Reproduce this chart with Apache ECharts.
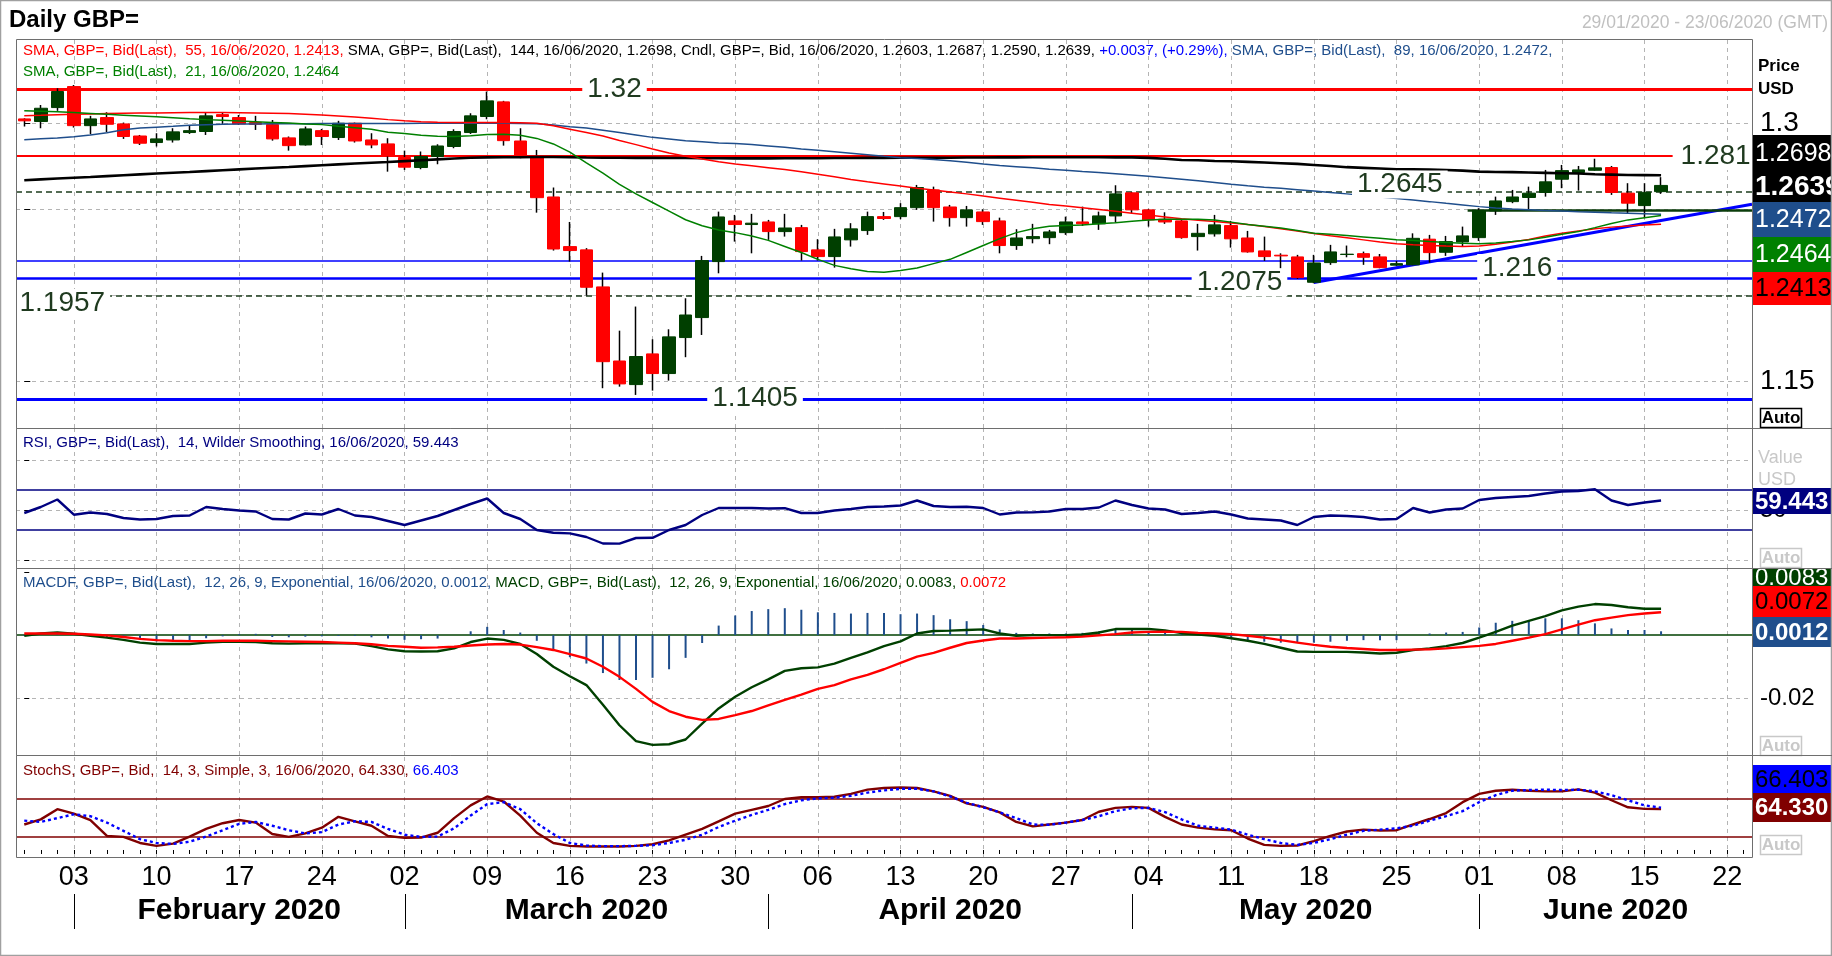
<!DOCTYPE html>
<html><head><meta charset="utf-8">
<script src="https://cdn.jsdelivr.net/npm/echarts/dist/echarts.min.js"></script>
<style>html,body{margin:0;padding:0;background:#fff}#c{width:1832px;height:956px}</style>
</head><body><div id="c"></div>
<script>
const categories = [
'2020-01-29','2020-01-30','2020-01-31',
'2020-02-03','2020-02-04','2020-02-05','2020-02-06','2020-02-07',
'2020-02-10','2020-02-11','2020-02-12','2020-02-13','2020-02-14',
'2020-02-17','2020-02-18','2020-02-19','2020-02-20','2020-02-21',
'2020-02-24','2020-02-25','2020-02-26','2020-02-27','2020-02-28',
'2020-03-02','2020-03-03','2020-03-04','2020-03-05','2020-03-06',
'2020-03-09','2020-03-10','2020-03-11','2020-03-12','2020-03-13',
'2020-03-16','2020-03-17','2020-03-18','2020-03-19','2020-03-20',
'2020-03-23','2020-03-24','2020-03-25','2020-03-26','2020-03-27',
'2020-03-30','2020-03-31','2020-04-01','2020-04-02','2020-04-03',
'2020-04-06','2020-04-07','2020-04-08','2020-04-09','2020-04-10',
'2020-04-13','2020-04-14','2020-04-15','2020-04-16','2020-04-17',
'2020-04-20','2020-04-21','2020-04-22','2020-04-23','2020-04-24',
'2020-04-27','2020-04-28','2020-04-29','2020-04-30','2020-05-01',
'2020-05-04','2020-05-05','2020-05-06','2020-05-07','2020-05-08',
'2020-05-11','2020-05-12','2020-05-13','2020-05-14','2020-05-15',
'2020-05-18','2020-05-19','2020-05-20','2020-05-21','2020-05-22',
'2020-05-25','2020-05-26','2020-05-27','2020-05-28','2020-05-29',
'2020-06-01','2020-06-02','2020-06-03','2020-06-04','2020-06-05',
'2020-06-08','2020-06-09','2020-06-10','2020-06-11','2020-06-12',
'2020-06-15','2020-06-16','2020-06-17','2020-06-18','2020-06-19',
'2020-06-22','2020-06-23'];

const weekTicks = ['2020-02-03','2020-02-10','2020-02-17','2020-02-24','2020-03-02','2020-03-09','2020-03-16','2020-03-23','2020-03-30','2020-04-06','2020-04-13','2020-04-20','2020-04-27','2020-05-04','2020-05-11','2020-05-18','2020-05-25','2020-06-01','2020-06-08','2020-06-15','2020-06-22'];
const monthStarts = ['2020-02-03','2020-03-02','2020-04-01','2020-05-01','2020-06-01'];
const monthNames = ['February 2020','March 2020','April 2020','May 2020','June 2020'];
const priceTicks = [1.15, 1.2, 1.25, 1.3];
const rsiTicks = [0, 50, 100];
const macdTicks = [-0.02];

const open = [1.3025,1.3010,1.3091,1.3213,1.2986,1.3033,1.2996,1.2926,1.2888,1.2903,
1.2946,1.2952,1.3050,1.3033,1.3004,1.2992,1.2915,1.2874,1.2957,1.2917,
1.3000,1.2903,1.2880,1.2801,1.2743,1.2807,1.2865,1.2946,1.3039,1.3124,
1.2897,1.2810,1.2572,1.2284,1.2265,1.2050,1.1620,1.1483,1.1661,1.1547,
1.1756,1.1872,1.2197,1.2433,1.2412,1.2427,1.2371,1.2394,1.2265,1.2226,
1.2323,1.2377,1.2458,1.2458,1.2510,1.2613,1.2514,1.2452,1.2485,1.2433,
1.2290,1.2330,1.2336,1.2365,1.2427,1.2416,1.2462,1.2596,1.2497,1.2443,
1.2433,1.2342,1.2358,1.2406,1.2334,1.2259,1.2234,1.2224,1.2077,1.2191,
1.2238,1.2243,1.2224,1.2176,1.2178,1.2327,1.2251,1.2311,1.2336,1.2491,
1.2545,1.2569,1.2598,1.2675,1.2714,1.2727,1.2743,1.2594,1.2522,1.2603];
const high = [1.3029,1.3106,1.3203,1.3222,1.3043,1.3064,1.3004,1.2932,1.2942,1.2971,
1.2985,1.3064,1.3064,1.3048,1.3043,1.3019,1.2923,1.2981,1.2967,1.3014,
1.3004,1.2942,1.2913,1.2841,1.2836,1.2878,1.2965,1.3058,1.3184,1.3130,
1.2971,1.2845,1.2627,1.2427,1.2275,1.2133,1.1796,1.1936,1.1746,1.1804,
1.1984,1.2230,1.2487,1.2468,1.2474,1.2439,1.2474,1.2410,1.2327,1.2387,
1.2420,1.2487,1.2485,1.2536,1.2642,1.2632,1.2526,1.2520,1.2501,1.2452,
1.2385,1.2416,1.2381,1.2458,1.2516,1.2487,1.2640,1.2601,1.2503,1.2483,
1.2443,1.2416,1.2468,1.2433,1.2375,1.2342,1.2245,1.2236,1.2236,1.2294,
1.2290,1.2255,1.2241,1.2201,1.2361,1.2352,1.2346,1.2400,1.2507,1.2574,
1.2613,1.2632,1.2729,1.2758,1.2752,1.2794,1.2752,1.2652,1.2652,1.2687];
const low = [1.2981,1.2971,1.3072,1.2975,1.2936,1.2948,1.2909,1.2874,1.2865,1.2888,
1.2938,1.2932,1.2996,1.2990,1.2961,1.2899,1.2841,1.2870,1.2874,1.2903,
1.2888,1.2855,1.2719,1.2729,1.2733,1.2762,1.2855,1.2938,1.3023,1.2870,
1.2797,1.2481,1.2261,1.2197,1.2000,1.1462,1.1471,1.1423,1.1448,1.1506,
1.1642,1.1771,1.2129,1.2313,1.2245,1.2323,1.2342,1.2203,1.2203,1.2162,
1.2284,1.2352,1.2439,1.2443,1.2497,1.2429,1.2400,1.2400,1.2410,1.2245,
1.2265,1.2303,1.2298,1.2352,1.2404,1.2381,1.2423,1.2478,1.2400,1.2416,
1.2330,1.2261,1.2342,1.2278,1.2249,1.2201,1.2158,1.2096,1.2071,1.2178,
1.2222,1.2178,1.2158,1.2172,1.2176,1.2191,1.2230,1.2284,1.2317,1.2468,
1.2536,1.2497,1.2574,1.2623,1.2609,1.2725,1.2584,1.2474,1.2449,1.2590];
const close = [1.3014,1.3087,1.3184,1.2986,1.3025,1.2994,1.2923,1.2884,1.2909,1.2950,
1.2957,1.3043,1.3039,1.2996,1.2994,1.2909,1.2870,1.2967,1.2923,1.3000,
1.2897,1.2874,1.2810,1.2745,1.2807,1.2868,1.2952,1.3043,1.3130,1.2899,
1.2810,1.2568,1.2270,1.2261,1.2048,1.1616,1.1487,1.1646,1.1547,1.1760,
1.1887,1.2203,1.2456,1.2412,1.2420,1.2371,1.2392,1.2255,1.2226,1.2340,
1.2387,1.2458,1.2447,1.2510,1.2627,1.2510,1.2452,1.2497,1.2429,1.2290,
1.2334,1.2342,1.2369,1.2427,1.2416,1.2462,1.2590,1.2497,1.2439,1.2427,
1.2336,1.2361,1.2410,1.2329,1.2253,1.2226,1.2230,1.2104,1.2189,1.2253,
1.2240,1.2222,1.2162,1.2185,1.2332,1.2249,1.2313,1.2346,1.2493,1.2549,
1.2572,1.2594,1.2660,1.2725,1.2729,1.2741,1.2598,1.2536,1.2599,1.2639];

const sma21 = [1.3073,1.3070,1.3066,1.3062,1.3057,1.3052,1.3047,1.3042,1.3037,1.3032,
1.3026,1.3021,1.3017,1.3013,1.3009,1.3005,1.3001,1.2996,1.2992,1.2982,
1.2974,1.2965,1.2948,1.2940,1.2930,1.2925,1.2923,1.2928,1.2934,1.2936,
1.2930,1.2912,1.2880,1.2832,1.2770,1.2710,1.2645,1.2590,1.2540,1.2490,
1.2440,1.2405,1.2380,1.2365,1.2345,1.2320,1.2285,1.2250,1.2210,1.2175,
1.2155,1.2140,1.2135,1.2145,1.2160,1.2185,1.2210,1.2250,1.2290,1.2330,
1.2365,1.2388,1.2402,1.2407,1.2410,1.2416,1.2423,1.2431,1.2438,1.2442,
1.2443,1.2442,1.2439,1.2426,1.2412,1.2402,1.2392,1.2377,1.2362,1.2355,
1.2348,1.2340,1.2332,1.2324,1.2320,1.2313,1.2308,1.2303,1.2300,1.2305,
1.2313,1.2323,1.2338,1.2355,1.2371,1.2394,1.2418,1.2439,1.2452,1.2464];
const sma55 = [1.3043,1.3046,1.3050,1.3052,1.3054,1.3056,1.3058,1.3059,1.3060,1.3061,
1.3062,1.3062,1.3062,1.3061,1.3060,1.3058,1.3056,1.3052,1.3048,1.3042,
1.3036,1.3029,1.3021,1.3014,1.3008,1.3006,1.3005,1.3004,1.3004,1.3004,
1.3003,1.3000,1.2985,1.2965,1.2946,1.2926,1.2900,1.2876,1.2851,1.2827,
1.2808,1.2792,1.2777,1.2764,1.2753,1.2742,1.2731,1.2719,1.2704,1.2689,
1.2674,1.2660,1.2648,1.2636,1.2622,1.2612,1.2601,1.2590,1.2577,1.2565,
1.2553,1.2541,1.2529,1.2519,1.2509,1.2499,1.2489,1.2478,1.2467,1.2456,
1.2445,1.2437,1.2429,1.2421,1.2412,1.2400,1.2387,1.2374,1.2360,1.2347,
1.2335,1.2323,1.2311,1.2300,1.2294,1.2290,1.2287,1.2285,1.2287,1.2297,
1.2310,1.2325,1.2345,1.2362,1.2375,1.2387,1.2397,1.2404,1.2409,1.2413];
const sma89 = [1.2904,1.2910,1.2915,1.2922,1.2932,1.2945,1.2962,1.2972,1.2977,1.2982,
1.2988,1.2991,1.2994,1.2996,1.2996,1.2997,1.2997,1.2997,1.2998,1.2998,
1.2998,1.2999,1.2999,1.2999,1.3000,1.3000,1.3000,1.3000,1.3000,1.3000,
1.2999,1.2997,1.2990,1.2980,1.2973,1.2960,1.2946,1.2932,1.2918,1.2908,
1.2898,1.2892,1.2886,1.2882,1.2876,1.2868,1.2860,1.2851,1.2843,1.2835,
1.2826,1.2817,1.2808,1.2800,1.2795,1.2789,1.2782,1.2774,1.2764,1.2755,
1.2748,1.2741,1.2733,1.2727,1.2720,1.2714,1.2707,1.2700,1.2692,1.2684,
1.2675,1.2666,1.2656,1.2646,1.2637,1.2629,1.2622,1.2614,1.2606,1.2598,
1.2590,1.2581,1.2572,1.2563,1.2554,1.2545,1.2535,1.2526,1.2516,1.2508,
1.2502,1.2498,1.2494,1.2490,1.2486,1.2483,1.2480,1.2478,1.2475,1.2472];
const sma144 = [1.2669,1.2674,1.2679,1.2684,1.2688,1.2693,1.2698,1.2703,1.2708,1.2713,
1.2717,1.2722,1.2727,1.2732,1.2737,1.2742,1.2746,1.2751,1.2756,1.2761,
1.2766,1.2771,1.2775,1.2780,1.2785,1.2790,1.2795,1.2800,1.2802,1.2803,
1.2803,1.2804,1.2804,1.2803,1.2801,1.2800,1.2800,1.2799,1.2799,1.2798,
1.2798,1.2797,1.2797,1.2796,1.2796,1.2796,1.2797,1.2797,1.2797,1.2798,
1.2798,1.2799,1.2799,1.2800,1.2800,1.2800,1.2800,1.2801,1.2801,1.2802,
1.2802,1.2803,1.2803,1.2803,1.2803,1.2803,1.2802,1.2802,1.2799,1.2794,
1.2787,1.2785,1.2781,1.2779,1.2776,1.2772,1.2768,1.2764,1.2758,1.2752,
1.2745,1.2741,1.2737,1.2733,1.2732,1.2731,1.2729,1.2725,1.2719,1.2717,
1.2716,1.2714,1.2712,1.2710,1.2708,1.2704,1.2702,1.2700,1.2699,1.2698];

const levels = [1.32, 1.281, 1.2645, 1.216, 1.2075, 1.1957, 1.1405];
const trendLine = [[78, 1.2075], [104.5, 1.2530]];
const supportLine = [[87.3, 1.2493], [104.5, 1.2493]];

const rsi = [47,53,60.5,45.3,47.5,46,42,40.5,41,44,
44.5,53,51,49.5,48.5,41,40.5,46.5,45.5,51,
44.5,43,39,35,39.5,44,50,56,61.5,47,
41,30,27.3,26.6,23,16.5,16.4,22,22.2,30,
35,45,52,52,52,51.5,51.8,47,47,49.5,
51,53,53.5,54.5,59.5,54,53,53.2,52,45.5,
47.5,47.6,48.5,51,51,52.5,59.5,55,51.5,50.5,
46,47,48.5,45.5,41.5,40.5,39.5,35,43,44.5,
44,43,40.5,41,52,47.5,50.5,51.5,60,62,
63,64,66.5,68.5,69,70.7,59.5,55,57.5,59.443];

const macd = [-0.0002,0.0005,0.0008,0.0004,-0.0002,-0.0008,-0.0015,-0.0024,-0.0028,-0.0028,
-0.0028,-0.0024,-0.0021,-0.0021,-0.0022,-0.0026,-0.0027,-0.0026,-0.0026,-0.0026,
-0.0027,-0.0035,-0.0045,-0.0051,-0.0052,-0.0051,-0.0042,-0.0022,-0.0011,-0.0015,
-0.0028,-0.0060,-0.0100,-0.0130,-0.0158,-0.0220,-0.0285,-0.0335,-0.0347,-0.0345,
-0.0330,-0.0280,-0.0232,-0.0195,-0.0165,-0.0140,-0.0113,-0.0105,-0.0102,-0.0090,
-0.0072,-0.0055,-0.0035,-0.0020,0.0005,0.0013,0.0014,0.0016,0.0018,0.0005,
-0.0002,0.0000,0.0000,0.0000,0.0002,0.0008,0.0019,0.0019,0.0019,0.0015,
0.0006,0.0002,-0.0002,-0.0010,-0.0018,-0.0028,-0.0040,-0.0052,-0.0053,-0.0053,
-0.0053,-0.0055,-0.0058,-0.0056,-0.0047,-0.0042,-0.0035,-0.0025,-0.0008,0.0010,
0.0030,0.0045,0.0060,0.0078,0.0090,0.0098,0.0095,0.0088,0.0083,0.0083];
const signal = [0.0005,0.0005,0.0005,0.0004,0.0002,-0.0001,-0.0006,-0.0012,-0.0016,-0.0018,
-0.0019,-0.0019,-0.0018,-0.0018,-0.0018,-0.0019,-0.0020,-0.0021,-0.0022,-0.0024,
-0.0026,-0.0029,-0.0034,-0.0037,-0.0040,-0.0039,-0.0037,-0.0033,-0.0030,-0.0028,
-0.0030,-0.0038,-0.0047,-0.0060,-0.0074,-0.0100,-0.0132,-0.0170,-0.0211,-0.0240,
-0.0258,-0.0268,-0.0265,-0.0253,-0.0240,-0.0222,-0.0205,-0.0188,-0.0170,-0.0158,
-0.0140,-0.0126,-0.0108,-0.0088,-0.0068,-0.0056,-0.0040,-0.0025,-0.0017,-0.0011,
-0.0011,-0.0009,-0.0008,-0.0007,-0.0005,-0.0001,0.0003,0.0008,0.0010,0.0011,
0.0010,0.0007,0.0005,0.0003,-0.0002,-0.0008,-0.0016,-0.0024,-0.0031,-0.0037,
-0.0041,-0.0044,-0.0047,-0.0047,-0.0046,-0.0045,-0.0042,-0.0038,-0.0034,-0.0028,
-0.0018,-0.0008,0.0003,0.0018,0.0033,0.0047,0.0055,0.0063,0.0068,0.0072];
const macdHist = [-0.0003,0.0000,0.0004,0.0001,-0.0003,-0.0006,-0.0009,-0.0014,-0.0020,-0.0019,
-0.0017,-0.0010,-0.0004,0.0003,0.0004,-0.0006,-0.0007,-0.0005,-0.0004,-0.0003,
-0.0003,-0.0007,-0.0011,-0.0015,-0.0013,-0.0011,0.0000,0.0012,0.0026,0.0016,
0.0008,-0.0018,-0.0045,-0.0070,-0.0090,-0.0120,-0.0142,-0.0142,-0.0135,-0.0108,
-0.0072,-0.0025,0.0030,0.0062,0.0076,0.0082,0.0085,0.0080,0.0072,0.0070,
0.0068,0.0070,0.0070,0.0066,0.0068,0.0063,0.0050,0.0044,0.0032,0.0018,
0.0007,0.0005,0.0005,0.0005,0.0007,0.0012,0.0018,0.0016,0.0013,0.0010,
0.0005,0.0000,-0.0005,-0.0010,-0.0016,-0.0021,-0.0024,-0.0024,-0.0024,-0.0021,
-0.0018,-0.0016,-0.0016,-0.0016,0.0000,0.0005,0.0008,0.0010,0.0024,0.0039,
0.0045,0.0047,0.0053,0.0053,0.0047,0.0037,0.0021,0.0016,0.0016,0.0012];

const stochK = [40,48,64,57,47,22,20.5,11,6.5,10,
21,33,42,47,43,25,20.5,26,35,52,
45,38,22,19,19.5,27,50,70,84,76,
54,27,11,6.5,5.4,5.4,5.5,6.5,9,15,
24,33,45,57,63,69,80,82.7,82.7,83.5,
88,94.6,97.3,98,97.3,92,85,73,67.6,59,
44,37,40,43,47,60,66,67.6,66,52,
40,35,32.4,31,18,8,6.5,7,14,22,
29,32,30.5,31,40,48.6,58,75,88,93,
94.6,93,92,92,95,90,78,67,64.5,64.33];
const stochD = [46,44,50,56,53,43,30,17,11,9.5,
13,21,31,41,44,38,31,26,28,40,
45,44,33,24,20.5,21,34,54,72,75,
64,42,25,11,7,6,6,6.5,7.5,11,
16,24,36,46,55,63,72,78,81,82,
85,90,93.5,96,96,92,84,74,67,59,
50,40,39.5,43,47,53,61,65.5,66,59.5,
48,38,35,32,24,17,11,8,11,17,
24,30,32,34,38,46,53,61,75,86,
93,94,94.6,94,94.6,92,86,78,70,66.403];

const FONT = 'Liberation Sans, Arial, sans-serif';
const chart = echarts.init(document.getElementById('c'), null, {renderer: 'canvas', width: 1832, height: 956});

const candleFull = open.map((o, i) => [o, close[i], low[i], high[i]]);
const candleBody = open.map((o, i) => [o, close[i], Math.min(o, close[i]), Math.max(o, close[i])]);
const weekIdx = weekTicks.map(d => categories.indexOf(d));

const GRID_LS = {color: '#b4b4b4', type: [4, 4], width: 1};
function vGrid() { return weekIdx.map(i => ({xAxis: i, lineStyle: GRID_LS})); }
function hGrid(ticks) { return ticks.map(v => ({yAxis: v, lineStyle: GRID_LS})); }
function mLine(extra) {
  return {silent: true, symbol: ['none', 'none'], label: {show: false}, animation: false, z: 0,
    emphasis: {disabled: true}, data: vGrid().concat(extra || [])};
}

const levelStyle = [
  {color: '#ff0000', width: 3, type: 'solid'},
  {color: '#ff0000', width: 2, type: 'solid', to: 99.7},
  {color: '#1d3d1d', width: 1.5, type: [6, 4]},
  {color: '#0000ff', width: 1.5, type: 'solid'},
  {color: '#0000ff', width: 2.5, type: 'solid'},
  {color: '#1d3d1d', width: 1.5, type: [6, 4]},
  {color: '#0000ff', width: 3, type: 'solid'}
];
const labelX = [35.7, 102.3, 83.2, 90.3, 73.5, 2.3, 44.2];
const levelLines = levels.map((v, k) => {
  const s = levelStyle[k];
  const ls = {color: s.color, width: s.width, type: s.type};
  if (s.to !== undefined) return [{coord: [-0.5, v], lineStyle: ls}, {coord: [s.to, v], lineStyle: ls}];
  return {yAxis: v, lineStyle: ls};
});
const levelLabels = levels.map((v, k) => ({coord: [labelX[k], v], label: {formatter: String(v)}}));

const grids = [
  {left: 16, right: 80, top: 39, height: 389},
  {left: 16, right: 80, top: 428, height: 140},
  {left: 16, right: 80, top: 568, height: 187},
  {left: 16, right: 80, top: 755, height: 102}
].map(g => Object.assign({show: false, containLabel: false, outerBoundsMode: 'none'}, g));

function catAxis(gi, showLabels) {
  const a = {type: 'category', gridIndex: gi, data: categories, boundaryGap: true,
    axisLine: {show: false}, splitLine: {show: false}, axisTick: {show: false}, axisLabel: {show: false}};
  if (showLabels) {
    a.axisTick = {show: true, interval: 0, alignWithLabel: true, length: 4, lineStyle: {color: '#000', width: 1}};
    a.axisLabel = {show: true, interval: (idx, val) => weekTicks.indexOf(val) >= 0,
      formatter: v => v.slice(8, 10), fontSize: 27, color: '#000', fontFamily: FONT, margin: 7};
  }
  return a;
}
function valAxis(gi) {
  return {type: 'value', gridIndex: gi, min: -0.5, max: 104.5, show: false, splitLine: {show: false}};
}

const yAxes = [
  {type: 'value', gridIndex: 0, position: 'right', min: 1.1231, max: 1.3489, minInterval: 0.05, maxInterval: 0.05,
    splitLine: {show: false}, axisLine: {show: false}, axisTick: {show: true, length: 6, lineStyle: {color: '#000'}},
    axisLabel: {fontSize: 28, color: '#000', fontFamily: FONT, margin: 8,
      formatter: v => (Math.abs(v * 20 - Math.round(v * 20)) < 1e-6 ? String(+v.toFixed(2)) : '')}},
  {type: 'value', gridIndex: 1, position: 'right', min: -8, max: 132, minInterval: 50, maxInterval: 50,
    splitLine: {show: false}, axisLine: {show: false}, axisTick: {show: true, length: 5, lineStyle: {color: '#000'}},
    axisLabel: {fontSize: 24, color: '#000', fontFamily: FONT, margin: 8, formatter: v => (v === 50 ? '50' : '')}},
  {type: 'value', gridIndex: 2, position: 'right', min: -0.0379, max: 0.0212, minInterval: 0.02, maxInterval: 0.02,
    splitLine: {show: false}, axisLine: {show: false}, axisTick: {show: true, length: 5, lineStyle: {color: '#000'}},
    axisLabel: {fontSize: 24, color: '#000', fontFamily: FONT, margin: 8,
      formatter: v => (Math.abs(v) < 1e-9 ? '0' : (Math.abs(v + 0.02) < 1e-9 ? '-0.02' : ''))}},
  {type: 'value', gridIndex: 3, position: 'right', min: -11, max: 149,
    splitLine: {show: false}, axisLine: {show: false}, axisTick: {show: false}, axisLabel: {show: false}}
];

function line(name, data, color, width, xi, yi, z, type) {
  return {type: 'line', name, data, xAxisIndex: xi, yAxisIndex: yi, symbol: 'none', z, silent: true,
    animation: false, lineStyle: {color, width, type: type || 'solid'}, itemStyle: {color}, emphasis: {disabled: true}};
}
function helper(xi, yi, extra) {
  return {type: 'line', name: 'grid' + xi, data: [[-0.5, null]], xAxisIndex: xi, yAxisIndex: yi, symbol: 'none',
    silent: true, animation: false, z: 0, lineStyle: {width: 0}, markLine: mLine(extra)};
}

const series = [
  helper(4, 0, hGrid(priceTicks)),
  helper(5, 1, hGrid(rsiTicks).concat([{yAxis: 70, lineStyle: {color: '#000080', width: 1.5, type: 'solid'}},
                {yAxis: 30, lineStyle: {color: '#000080', width: 1.5, type: 'solid'}}])),
  helper(6, 2, hGrid(macdTicks).concat([{yAxis: 0, lineStyle: {color: '#004000', width: 1.5, type: 'solid'}}])),
  helper(7, 3, [{yAxis: 80, lineStyle: {color: '#800000', width: 1.5, type: 'solid'}},
                {yAxis: 20, lineStyle: {color: '#800000', width: 1.5, type: 'solid'}}]),
  {type: 'candlestick', name: 'wick', xAxisIndex: 0, yAxisIndex: 0, data: candleFull, barWidth: 1, z: 2, silent: true,
    itemStyle: {color: '#000', color0: '#000', borderColor: '#000', borderColor0: '#000', borderColorDoji: '#000', borderWidth: 1.5}},
  {type: 'candlestick', name: 'body', xAxisIndex: 0, yAxisIndex: 0, data: candleBody, barWidth: 13, z: 3, silent: true,
    itemStyle: {color: '#003f00', color0: '#ff0000', borderColor: '#003f00', borderColor0: '#ff0000', borderColorDoji: '#000', borderWidth: 1}},
  line('SMA144', sma144, '#000000', 2.6, 0, 0, 4),
  line('SMA89', sma89, '#1f4e8c', 1.5, 0, 0, 4),
  line('SMA55', sma55, '#ff0000', 1.5, 0, 0, 4),
  line('SMA21', sma21, '#008000', 1.5, 0, 0, 4),
  Object.assign(line('trend', trendLine, '#0000ff', 3, 4, 0, 2), {
    markLine: {silent: true, symbol: ['none', 'none'], label: {show: false}, animation: false, z: 1, data: levelLines},
    markPoint: {silent: true, z: 10, animation: false, symbol: 'circle', symbolSize: 1, itemStyle: {color: 'rgba(0,0,0,0)'},
      label: {show: true, position: 'inside', fontSize: 28, fontFamily: FONT, color: '#1f3a1f', backgroundColor: '#ffffff', padding: [0, 5, 0, 5]},
      data: levelLabels}
  }),
  line('support', supportLine, '#0b3d0b', 2.5, 4, 0, 2),
  line('RSI', rsi, '#000080', 2.4, 1, 1, 3),
  {type: 'bar', name: 'MACDF', xAxisIndex: 2, yAxisIndex: 2, data: macdHist, barWidth: 2, z: 2, silent: true, animation: false,
    itemStyle: {color: '#1f4e8c'}},
  line('MACD', macd, '#004000', 2.4, 2, 2, 3),
  line('Signal', signal, '#ff0000', 2.4, 2, 2, 3),
  line('StochK', stochK, '#800000', 2.4, 3, 3, 3),
  line('StochD', stochD, '#0000ff', 2.4, 3, 3, 3, [3, 3])
];

chart.setOption({
  animation: false,
  backgroundColor: '#ffffff',
  grid: grids,
  xAxis: [catAxis(0), catAxis(1), catAxis(2), catAxis(3, true), valAxis(0), valAxis(1), valAxis(2), valAxis(3)],
  yAxis: yAxes,
  series: series
});

// ---------- annotations ----------
const G = [];
function txt(x, y, text, o) {
  o = o || {};
  return {type: 'text', x, y, z: o.z || 55, silent: true, style: {
    text, fill: o.color || '#000', fontSize: o.size || 15, fontFamily: FONT, fontWeight: o.bold ? 'bold' : 'normal',
    align: o.align || 'left', textAlign: o.align || 'left', verticalAlign: 'middle', textVerticalAlign: 'middle',
    rich: o.rich}};
}
function tag(y0, y1, bg, text, color, bold, size) {
  G.push({type: 'rect', shape: {x: 1753, y: y0, width: 79, height: y1 - y0}, style: {fill: bg}, z: 50, silent: true});
  G.push(txt(1755, (y0 + y1) / 2 + 1, text, {color, bold, size: size || 25, z: 51}));
}
function auto(y0, grey) {
  G.push({type: 'rect', shape: {x: 1760.5, y: y0 + 0.5, width: 41, height: 19}, style: {fill: '#fff', stroke: grey ? '#c8c8c8' : '#000', lineWidth: 1.5}, z: 50, silent: true});
  G.push(txt(1781, y0 + 10.5, 'Auto', {color: grey ? '#c8c8c8' : '#000', bold: true, size: 17, align: 'center', z: 51}));
}

G.push({type: 'rect', shape: {x: 0.5, y: 0.5, width: 1831, height: 955}, style: {fill: 'none', stroke: '#a0a0a0', lineWidth: 1.5}, z: 60, silent: true});
[[39, 428], [428, 568], [568, 755], [755, 857]].forEach(([a, b]) =>
  G.push({type: 'rect', shape: {x: 16.5, y: a + 0.5, width: 1736, height: b - a}, style: {fill: 'none', stroke: '#6e6e6e', lineWidth: 1}, z: 60, silent: true}));
[428, 568, 755].forEach(y =>
  G.push({type: 'line', shape: {x1: 1752, y1: y + 0.5, x2: 1832, y2: y + 0.5}, style: {stroke: '#6e6e6e', lineWidth: 1}, z: 60, silent: true}));

G.push(txt(9, 20, 'Daily GBP=', {bold: true, size: 24}));
G.push(txt(1828, 23, '29/01/2020 - 23/06/2020 (GMT)', {color: '#c0c0c0', size: 17.5, align: 'right'}));

G.push(txt(23, 51,
  '{r|SMA, GBP=, Bid(Last),  55, 16/06/2020, 1.2413, }{k|SMA, GBP=, Bid(Last),  144, 16/06/2020, 1.2698, Cndl, GBP=, Bid, 16/06/2020, 1.2603, 1.2687, 1.2590, 1.2639, }{b|+0.0037, (+0.29%), }{n|SMA, GBP=, Bid(Last),  89, 16/06/2020, 1.2472,}',
  {rich: {r: {fill: '#ff0000', color: '#ff0000'}, k: {fill: '#000', color: '#000'}, b: {fill: '#0000ff', color: '#0000ff'}, n: {fill: '#1f4e8c', color: '#1f4e8c'}}}));
G.push(txt(23, 72, 'SMA, GBP=, Bid(Last),  21, 16/06/2020, 1.2464', {color: '#008000'}));
G.push(txt(23, 443, 'RSI, GBP=, Bid(Last),  14, Wilder Smoothing, 16/06/2020, 59.443', {color: '#000080'}));
G.push(txt(23, 583,
  '{n|MACDF, GBP=, Bid(Last),  12, 26, 9, Exponential, 16/06/2020, 0.0012, }{g|MACD, GBP=, Bid(Last),  12, 26, 9, Exponential, 16/06/2020, 0.0083, }{r|0.0072}',
  {rich: {n: {fill: '#1f4e8c', color: '#1f4e8c'}, g: {fill: '#004000', color: '#004000'}, r: {fill: '#ff0000', color: '#ff0000'}}}));
G.push(txt(23, 771, '{m|StochS, GBP=, Bid,  14, 3, Simple, 3, 16/06/2020, 64.330, }{b|66.403}',
  {rich: {m: {fill: '#800000', color: '#800000'}, b: {fill: '#0000ff', color: '#0000ff'}}}));

G.push(txt(1758, 66, 'Price', {bold: true, size: 17}));
G.push(txt(1758, 89, 'USD', {bold: true, size: 17}));
G.push(txt(1758, 458, 'Value', {color: '#c8c8c8', size: 18}));
G.push(txt(1758, 480, 'USD', {color: '#c8c8c8', size: 18}));

G.push({type: 'rect', shape: {x: 1753, y: 135, width: 79, height: 67}, style: {fill: '#000'}, z: 50, silent: true});
G.push(txt(1755, 154, '1.2698', {color: '#fff', size: 25, z: 51}));
G.push(txt(1755, 187, '1.2639', {color: '#fff', size: 28, bold: true, z: 51}));
tag(202, 237, '#1f4e8c', '1.2472', '#fff');
tag(237, 272, '#008000', '1.2464', '#fff');
tag(272, 305, '#ff0000', '1.2413', '#000');
tag(488, 514, '#000080', '59.443', '#fff', true, 24);
tag(569, 586, '#004000', '0.0083', '#fff', false, 24);
tag(586, 617, '#ff0000', '0.0072', '#000', false, 24);
tag(617, 647, '#1f4e8c', '0.0012', '#fff', true, 24);
tag(765, 793, '#0000ff', '66.403', '#000', false, 24);
tag(793, 822, '#800000', '64.330', '#fff', true, 24);

auto(408, false);
auto(548, true);
auto(736, true);
auto(835, true);

const xs = monthStarts.map(d => chart.convertToPixel({xAxisIndex: 3}, categories.indexOf(d)));
xs.forEach((x, k) => {
  const nx = k < xs.length - 1 ? xs[k + 1] : 1752;
  G.push({type: 'line', shape: {x1: Math.round(x) + 0.5, y1: 894, x2: Math.round(x) + 0.5, y2: 929}, style: {stroke: '#000', lineWidth: 1}, z: 55, silent: true});
  G.push(txt((x + nx) / 2, 911, monthNames[k], {bold: true, size: 30, align: 'center'}));
});

chart.setOption({graphic: G});
</script></body></html>
